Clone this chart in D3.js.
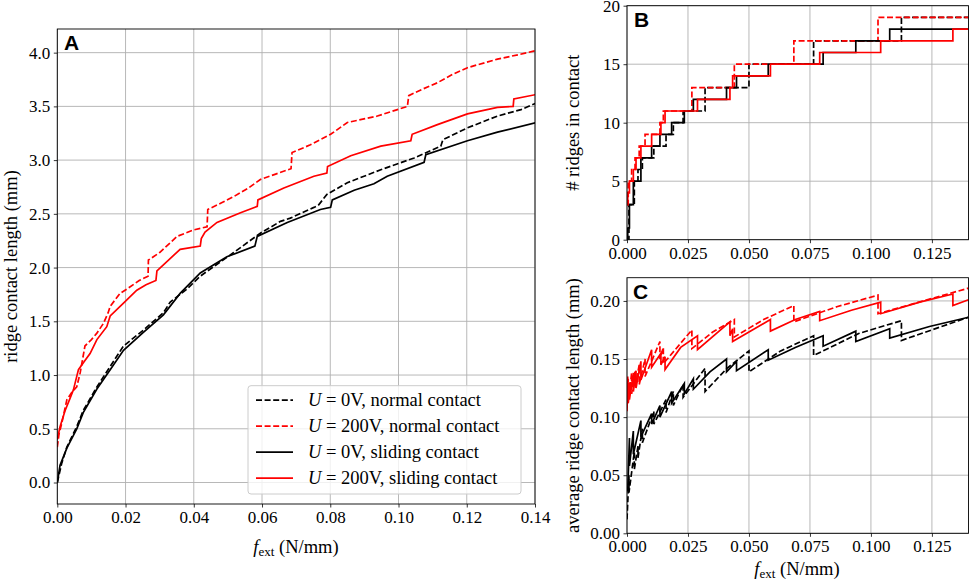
<!DOCTYPE html>
<html lang="en">
<head>
<meta charset="UTF-8">
<title>ridge contact</title>
<style>
  body { margin: 0; background: #fff; }
</style>
</head>
<body>
<div id="fig"></div>
<script src="https://cdn.jsdelivr.net/npm/d3@7"></script>
<script>
// ---- panel A : ridge contact length (mm) ----
let aBlkNormF = [0, 0.0013, 0.0028, 0.0057, 0.0076, 0.0116, 0.0155, 0.0194, 0.0253, 0.0311, 0.0331, 0.038, 0.0419, 0.0517, 0.0595, 0.0654, 0.0683, 0.0752, 0.0765, 0.079, 0.085, 0.0948, 0.1046, 0.1124, 0.113, 0.1202, 0.129, 0.1359, 0.1403]
let aBlkNormV = [0, 0.18, 0.33, 0.52, 0.67, 0.89, 1.08, 1.27, 1.42, 1.58, 1.68, 1.80, 1.92, 2.14, 2.32, 2.43, 2.46, 2.56, 2.58, 2.68, 2.79, 2.91, 3.02, 3.13, 3.19, 3.30, 3.41, 3.47, 3.53]
let aRedNormF = [0, 0.0005, 0.0013, 0.0028, 0.0045, 0.0057, 0.0067, 0.0081, 0.01, 0.0116, 0.0135, 0.0149, 0.0155, 0.0184, 0.0204, 0.024, 0.0266, 0.0267, 0.03, 0.0351, 0.0399, 0.0439, 0.0441, 0.048, 0.0517, 0.056, 0.0595, 0.064, 0.0685, 0.0688, 0.074, 0.0801, 0.085, 0.0938, 0.1026, 0.103, 0.107, 0.1114, 0.116, 0.1202, 0.129, 0.135, 0.1403]
let aRedNormV = [0.33, 0.45, 0.55, 0.77, 0.85, 0.89, 1.02, 1.27, 1.33, 1.39, 1.48, 1.58, 1.64, 1.76, 1.80, 1.88, 1.92, 2.07, 2.14, 2.29, 2.35, 2.38, 2.54, 2.60, 2.66, 2.74, 2.82, 2.87, 2.92, 3.07, 3.14, 3.24, 3.35, 3.41, 3.50, 3.60, 3.66, 3.72, 3.80, 3.86, 3.94, 3.98, 4.02]
let aBlkSlideF = [0, 0.0008, 0.0028, 0.0057, 0.0076, 0.0116, 0.0155, 0.0194, 0.0253, 0.0311, 0.036, 0.0419, 0.0497, 0.0579, 0.0586, 0.0674, 0.0771, 0.0801, 0.0806, 0.087, 0.0928, 0.0967, 0.1075, 0.108, 0.1202, 0.129, 0.1403]
let aBlkSlideV = [0, 0.16, 0.32, 0.50, 0.65, 0.87, 1.05, 1.23, 1.40, 1.56, 1.76, 1.95, 2.10, 2.20, 2.29, 2.42, 2.54, 2.56, 2.63, 2.72, 2.78, 2.85, 2.98, 3.05, 3.18, 3.26, 3.35]
let aRedSlideF = [0, 0.0008, 0.0023, 0.0037, 0.0047, 0.0062, 0.008, 0.0096, 0.0116, 0.0145, 0.0155, 0.0194, 0.0233, 0.026, 0.0289, 0.0292, 0.036, 0.0419, 0.0422, 0.0433, 0.0468, 0.0537, 0.0586, 0.0588, 0.0664, 0.0752, 0.079, 0.0792, 0.086, 0.0948, 0.1036, 0.104, 0.1114, 0.1202, 0.129, 0.1336, 0.1338, 0.1403]
let aRedSlideV = [0.40, 0.52, 0.67, 0.78, 0.86, 1.05, 1.13, 1.20, 1.33, 1.45, 1.55, 1.67, 1.79, 1.84, 1.88, 1.97, 2.17, 2.20, 2.27, 2.33, 2.42, 2.51, 2.57, 2.63, 2.74, 2.85, 2.88, 2.94, 3.04, 3.13, 3.18, 3.24, 3.33, 3.43, 3.49, 3.50, 3.57, 3.61]

// ---- panel B : # ridges in contact (steps) ----
let bBlkNormF = [0, 0.0008, 0.003, 0.0045, 0.0063, 0.011, 0.016, 0.019, 0.023, 0.032, 0.05, 0.0765, 0.1125, 0.14]
let bBlkNormN = [0, 3, 5, 6, 7, 8, 9, 10, 11, 13, 15, 17, 19, 19]
let bRedNormF = [0, 0.0005, 0.0019, 0.0033, 0.005, 0.0074, 0.0135, 0.0149, 0.0266, 0.044, 0.0684, 0.1029, 0.14]
let bRedNormN = [3, 5, 6, 7, 8, 9, 10, 11, 13, 15, 17, 19, 19]
let bBlkSlideF = [0, 0.0003, 0.001, 0.0026, 0.0057, 0.0101, 0.0135, 0.0183, 0.0235, 0.0272, 0.0408, 0.0449, 0.0579, 0.0804, 0.0938, 0.1077, 0.14]
let bBlkSlideN = [0, 1, 3, 5, 7, 8, 9, 10, 11, 12, 13, 14, 15, 16, 17, 18, 18]
let bRedSlideF = [0, 0.0003, 0.001, 0.0026, 0.0037, 0.0057, 0.0101, 0.0139, 0.0156, 0.0289, 0.0422, 0.0433, 0.0588, 0.079, 0.104, 0.1336, 0.14]
let bRedSlideN = [3, 4, 5, 6, 7, 8, 9, 10, 11, 12, 13, 14, 15, 16, 17, 18, 18]

// ---- panel C : average ridge contact length (mm) ----
let cBlkNormF = [0, 0.0008, 0.0008, 0.003, 0.003, 0.0045, 0.0045, 0.0063, 0.0063, 0.011, 0.011, 0.016, 0.016, 0.019, 0.019, 0.023, 0.023, 0.032, 0.032, 0.041, 0.05, 0.05, 0.063, 0.0765, 0.0765, 0.095, 0.1125, 0.1125, 0.14]
let cBlkNormV = [0.012, 0.05, 0.035, 0.07, 0.055, 0.075, 0.065, 0.09, 0.078, 0.105, 0.094, 0.115, 0.104, 0.122, 0.110, 0.128, 0.117, 0.142, 0.122, 0.142, 0.157, 0.139, 0.157, 0.170, 0.153, 0.172, 0.183, 0.166, 0.186]
let cRedNormF = [0, 0.0005, 0.0005, 0.0019, 0.0019, 0.0033, 0.0033, 0.005, 0.005, 0.0074, 0.0074, 0.0135, 0.0135, 0.0149, 0.0149, 0.0266, 0.0266, 0.035, 0.044, 0.044, 0.056, 0.0684, 0.0684, 0.086, 0.1029, 0.1029, 0.14]
let cRedNormV = [0.108, 0.133, 0.112, 0.138, 0.120, 0.140, 0.125, 0.145, 0.128, 0.150, 0.135, 0.165, 0.150, 0.160, 0.146, 0.175, 0.159, 0.173, 0.184, 0.169, 0.184, 0.196, 0.182, 0.195, 0.205, 0.189, 0.211]
let cBlkSlideF = [0.0003, 0.001, 0.001, 0.0026, 0.0026, 0.0057, 0.0057, 0.0101, 0.0101, 0.0135, 0.0135, 0.0183, 0.0183, 0.0235, 0.0235, 0.0272, 0.0272, 0.034, 0.0408, 0.0408, 0.0449, 0.0449, 0.0579, 0.0579, 0.069, 0.0804, 0.0804, 0.0938, 0.0938, 0.1077, 0.1077, 0.124, 0.14]
let cBlkSlideV = [0.036, 0.082, 0.058, 0.088, 0.068, 0.097, 0.083, 0.103, 0.094, 0.110, 0.100, 0.122, 0.112, 0.129, 0.120, 0.133, 0.124, 0.139, 0.150, 0.139, 0.148, 0.140, 0.158, 0.149, 0.160, 0.170, 0.161, 0.174, 0.165, 0.176, 0.168, 0.178, 0.186]
let cRedSlideF = [0, 0.0003, 0.0003, 0.001, 0.001, 0.0026, 0.0026, 0.0037, 0.0037, 0.0057, 0.0057, 0.0101, 0.0101, 0.0139, 0.0139, 0.0156, 0.0156, 0.022, 0.0289, 0.0289, 0.0422, 0.0422, 0.0433, 0.0433, 0.0588, 0.0588, 0.069, 0.079, 0.079, 0.092, 0.104, 0.104, 0.12, 0.1336, 0.1336, 0.14]
let cRedSlideV = [0.105, 0.135, 0.112, 0.130, 0.115, 0.138, 0.122, 0.140, 0.125, 0.148, 0.132, 0.158, 0.143, 0.155, 0.145, 0.152, 0.141, 0.160, 0.170, 0.158, 0.182, 0.170, 0.176, 0.165, 0.184, 0.174, 0.184, 0.191, 0.183, 0.192, 0.199, 0.189, 0.199, 0.206, 0.196, 0.201]

let legendLabels = ['0V, normal contact', '200V, normal contact', '0V, sliding contact', '200V, sliding contact']

let xTicksA = [0, 0.02, 0.04, 0.06, 0.08, 0.1, 0.12, 0.14]
let yTicksA = [0, 0.5, 1, 1.5, 2, 2.5, 3, 3.5, 4]
let xTicksBC = [0, 0.025, 0.05, 0.075, 0.1, 0.125]
let yTicksB = [0, 5, 10, 15, 20]
let yTicksC = [0, 0.05, 0.1, 0.15, 0.2]

let width = 969
let height = 582
let serif = '"Liberation Serif", "Times New Roman", "DejaVu Serif", serif'
let sans = '"Liberation Sans", Arial, "DejaVu Sans", sans-serif'
let svg = d3.select('#fig').append('svg').attr('width', width).attr('height', height)
  .attr('font-family', serif)

let black = '#000000'
let red = '#ff0000'

// 画一个坐标区：网格 + 边框 + 刻度
function makePanel(id, box, xDom, yDom, xTicks, yTicks, xFmt, yFmt) {
  let x = d3.scaleLinear().domain(xDom).range([box.l, box.r])
  let y = d3.scaleLinear().domain(yDom).range([box.b, box.t])
  let g = svg.append('g').attr('class', 'panel-' + id)

  svg.append('clipPath').attr('id', 'clip-' + id)
    .append('rect').attr('x', box.l).attr('y', box.t).attr('width', box.r - box.l).attr('height', box.b - box.t)

  let grid = g.append('g').attr('stroke', '#b0b0b0').attr('stroke-width', 0.9)
  xTicks.forEach(t => grid.append('line').attr('x1', x(t)).attr('x2', x(t)).attr('y1', box.t).attr('y2', box.b))
  yTicks.forEach(t => grid.append('line').attr('x1', box.l).attr('x2', box.r).attr('y1', y(t)).attr('y2', y(t)))

  let xa = g.append('g').attr('transform', 'translate(0,' + box.b + ')')
    .call(d3.axisBottom(x).tickValues(xTicks).tickFormat(d3.format(xFmt)).tickSize(3.5).tickPadding(3.5))
  let ya = g.append('g').attr('transform', 'translate(' + box.l + ',0)')
    .call(d3.axisLeft(y).tickValues(yTicks).tickFormat(d3.format(yFmt)).tickSize(3.5).tickPadding(3.5))
  xa.select('.domain').remove()
  ya.select('.domain').remove()
  xa.attr('font-family', serif).attr('font-size', 17)
  ya.attr('font-family', serif).attr('font-size', 17)
  g.selectAll('.tick line').attr('stroke', '#000').attr('stroke-width', 0.8)
  g.selectAll('.tick text').attr('fill', '#000')

  let lines = g.append('g').attr('clip-path', 'url(#clip-' + id + ')')
  let frame = () => g.append('rect').attr('x', box.l).attr('y', box.t).attr('width', box.r - box.l).attr('height', box.b - box.t)
    .attr('fill', 'none').attr('stroke', '#000').attr('stroke-width', 0.9)
  return { x, y, g, lines, frame, box }
}

function drawSeries(p, fs, vs, color, dashed, curve) {
  let pts = fs.map((f, i) => [f, vs[i]])
  p.lines.append('path').datum(pts)
    .attr('d', d3.line().x(d => p.x(d[0])).y(d => p.y(d[1])).curve(curve || d3.curveLinear))
    .attr('fill', 'none').attr('stroke', color).attr('stroke-width', 1.7)
    .attr('stroke-dasharray', dashed ? '6,2.6' : null)
}

function xLabel(cx, cy) {
  let t = svg.append('text').attr('font-size', 18.5).attr('x', cx).attr('y', cy).attr('text-anchor', 'middle')
  t.append('tspan').attr('font-style', 'italic').text('f')
  t.append('tspan').attr('font-size', 13).attr('dy', 3).text('ext')
  t.append('tspan').attr('dy', -3).text(' (N/mm)')
}

function yLabel(bx, cy, str) {
  svg.append('text').attr('font-size', 18.5).attr('text-anchor', 'middle')
    .attr('transform', 'translate(' + bx + ',' + cy + ') rotate(-90)').text(str)
}

// ---- A ----
let pA = makePanel('A', { l: 57.3, t: 29, r: 535, b: 504 }, [0, 0.14], [-0.2, 4.22], xTicksA, yTicksA, '.2f', '.1f')
drawSeries(pA, aBlkNormF, aBlkNormV, black, true)
drawSeries(pA, aRedNormF, aRedNormV, red, true)
drawSeries(pA, aBlkSlideF, aBlkSlideV, black, false)
drawSeries(pA, aRedSlideF, aRedSlideV, red, false)
pA.frame()

// ---- B ----
let pB = makePanel('B', { l: 627, t: 5.7, r: 968.5, b: 239.7 }, [0, 0.14], [0, 20], xTicksBC, yTicksB, '.3f', 'd')
drawSeries(pB, bBlkNormF, bBlkNormN, black, true, d3.curveStepAfter)
drawSeries(pB, bRedNormF, bRedNormN, red, true, d3.curveStepAfter)
drawSeries(pB, bBlkSlideF, bBlkSlideN, black, false, d3.curveStepAfter)
drawSeries(pB, bRedSlideF, bRedSlideN, red, false, d3.curveStepAfter)
pB.frame()

// ---- C ----
let pC = makePanel('C', { l: 627, t: 277.7, r: 968.5, b: 533.3 }, [0, 0.14], [0, 0.22], xTicksBC, yTicksC, '.3f', '.2f')
drawSeries(pC, cBlkNormF, cBlkNormV, black, true)
drawSeries(pC, cRedNormF, cRedNormV, red, true)
drawSeries(pC, cBlkSlideF, cBlkSlideV, black, false)
drawSeries(pC, cRedSlideF, cRedSlideV, red, false)
pC.frame()

// 面板字母
let tag = (x, y, s) => svg.append('text').attr('x', x).attr('y', y).attr('font-family', sans)
  .attr('font-weight', 'bold').attr('font-size', 21).text(s)
tag(64, 50, 'A')
tag(634, 27, 'B')
tag(633, 298.5, 'C')

// 坐标轴标题
xLabel(296, 553)
xLabel(797, 575)
yLabel(17, 266.5, 'ridge contact length (mm)')
yLabel(579, 122.7, '# ridges in contact')
yLabel(579, 405.5, 'average ridge contact length (mm)')

// 图例
let leg = svg.append('g').attr('transform', 'translate(248,385.7)')
leg.append('rect').attr('width', 273).attr('height', 108.3).attr('rx', 3)
  .attr('fill', '#fff').attr('fill-opacity', 0.8).attr('stroke', '#cccccc').attr('stroke-width', 1)
let legStyle = [[black, true], [red, true], [black, false], [red, false]]
legendLabels.forEach((lab, i) => {
  let yy = 14.5 + i * 26
  leg.append('line').attr('x1', 8).attr('x2', 45).attr('y1', yy).attr('y2', yy)
    .attr('stroke', legStyle[i][0]).attr('stroke-width', 1.7)
    .attr('stroke-dasharray', legStyle[i][1] ? '6,2.6' : null)
  let t = leg.append('text').attr('font-size', 18.5).attr('x', 60).attr('y', yy + 6)
  t.append('tspan').attr('font-style', 'italic').text('U')
  t.append('tspan').text(' = ' + lab)
})
</script>
</body>
</html>
